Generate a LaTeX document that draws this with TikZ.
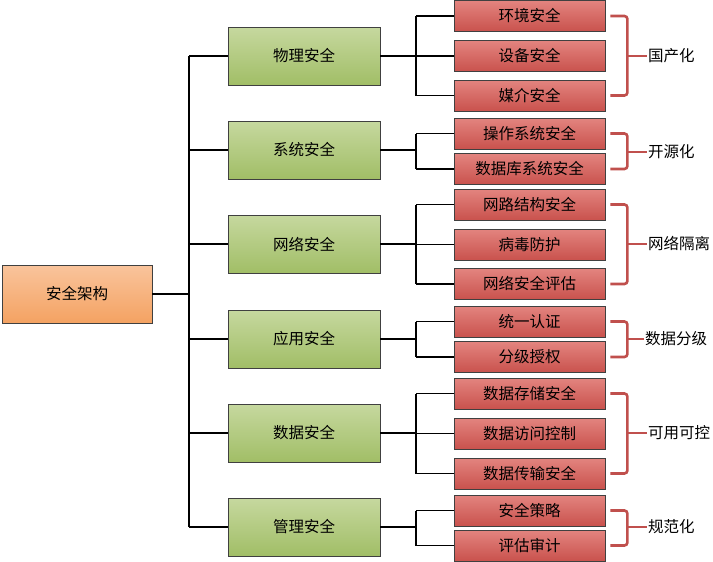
\documentclass[tikz,border=0pt]{standalone}
\usepackage{fontspec}
\setmainfont{Noto Sans CJK SC}
\usepackage{xcolor}
\usepackage{tikz}
\usetikzlibrary{positioning,calc}

\definecolor{rootTop}{HTML}{F9C49C}
\definecolor{rootBot}{HTML}{F4A262}
\definecolor{grnTop}{HTML}{C6D89F}
\definecolor{grnBot}{HTML}{A1BE66}
\definecolor{redTop}{HTML}{E3847F}
\definecolor{redBot}{HTML}{C9524D}
\definecolor{brk}{HTML}{C0504D}

\tikzset{
  rootbox/.style={draw=black!75, line width=0.8pt, top color=rootTop, bottom color=rootBot, minimum width=150pt, minimum height=58pt, font=\fontsize{15.5}{18}\selectfont},
  lvlbox/.style={draw=black!75, line width=0.8pt, top color=grnTop, bottom color=grnBot, minimum width=152pt, minimum height=58pt, font=\fontsize{15.5}{18}\selectfont},
  leafbox/.style={draw=black!75, line width=0.8pt, top color=redTop, bottom color=redBot, minimum width=151pt, minimum height=31pt, inner sep=0pt, font=\fontsize{15.5}{18}\selectfont},
  lbl/.style={anchor=west, inner sep=1pt, font=\fontsize{15.5}{18}\selectfont},
  link/.style={line width=1.4pt, black},
  bracket/.style={line width=2.6pt, brk, rounded corners=3pt}
}

\begin{document}
\begin{tikzpicture}[x=1pt, y=-1pt]
\useasboundingbox (0,0) rectangle (713,562);

% Root
\node[rootbox] (root) at (77,294) {安全架构};

% Second level
\node[lvlbox] (phy) at (304,56) {物理安全};
\node[lvlbox] (sys) at (304,150) {系统安全};
\node[lvlbox] (net) at (304,244) {网络安全};
\node[lvlbox] (app) at (304,339) {应用安全};
\node[lvlbox] (dat) at (304,433) {数据安全};
\node[lvlbox] (mgt) at (304,527) {管理安全};

% Leaves
\node[leafbox] (env) at (529.5,16) {环境安全};
\node[leafbox] (dev) at (529.5,56) {设备安全};
\node[leafbox] (med) at (529.5,95.5) {媒介安全};
\node[leafbox] (os) at (529.5,133.5) {操作系统安全};
\node[leafbox] (db) at (529.5,169) {数据库系统安全};
\node[leafbox] (topo) at (529.5,204.5) {网路结构安全};
\node[leafbox] (virus) at (529.5,244.5) {病毒防护};
\node[leafbox] (neval) at (529.5,284) {网络安全评估};
\node[leafbox] (auth) at (529.5,321.5) {统一认证};
\node[leafbox] (grant) at (529.5,357) {分级授权};
\node[leafbox] (store) at (529.5,393.5) {数据存储安全};
\node[leafbox] (access) at (529.5,433.5) {数据访问控制};
\node[leafbox] (trans) at (529.5,473.5) {数据传输安全};
\node[leafbox] (policy) at (529.5,510.5) {安全策略};
\node[leafbox] (audit) at (529.5,545.5) {评估审计};

% Group labels
\node[lbl] (gA) at (647,56) {国产化};
\node[lbl] (gB) at (647,152) {开源化};
\node[lbl] (gC) at (647,244) {网络隔离};
\node[lbl] (gD) at (644,339) {数据分级};
\node[lbl] (gE) at (647,433) {可用可控};
\node[lbl] (gF) at (647,527) {规范化};

% Root to second level
\coordinate (bus) at (189,294);
\draw[link] (root.east) -- (bus);
\draw[link] (bus |- phy) -- (bus |- mgt);
\foreach \n in {phy,sys,net,app,dat,mgt}
  \draw[link] (bus |- \n) -- (\n.west);

% Second level to leaves
\coordinate (lb) at (416,0);
\foreach \p/\a/\b in {phy/env/med, sys/os/db, net/topo/neval, app/auth/grant, dat/store/trans, mgt/policy/audit} {
  \draw[link] (\p.east) -- (lb |- \p);
  \draw[link] (lb |- \a) -- (lb |- \b);
}
\foreach \n in {env,dev,med,os,db,topo,virus,neval,auth,grant,store,access,trans,policy,audit}
  \draw[link] (lb |- \n) -- (\n.west);

% Brackets
\foreach \a/\b/\g in {env/med/gA, os/db/gB, topo/neval/gC, auth/grant/gD, store/trans/gE, policy/audit/gF} {
  \draw[bracket] ([xshift=5pt]\a.east) -| ([xshift=22pt]\b.east) -- ([xshift=5pt]\b.east);
  \draw[bracket] ([xshift=22pt]\b.east |- \g.west) -- (\g.west);
}
\end{tikzpicture}
\end{document}
